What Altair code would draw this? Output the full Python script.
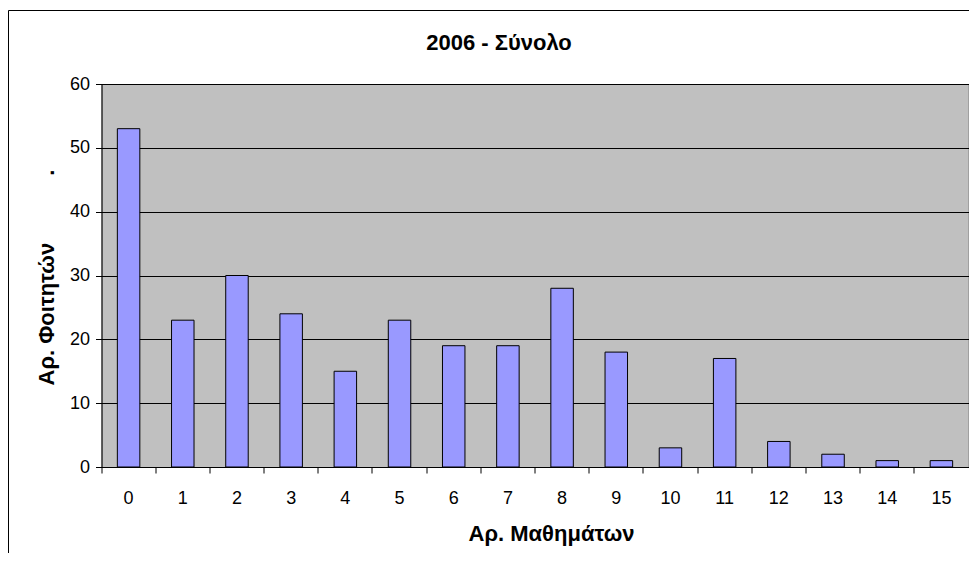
import altair as alt
import pandas as pd

courses = [str(i) for i in range(16)]
students = [53, 23, 30, 24, 15, 23, 19, 19, 28, 18, 3, 17, 4, 2, 1, 1]
y_ticks = [0, 10, 20, 30, 40, 50, 60]
title_text = "2006 - Σύνολο"
x_title = "Αρ. Μαθημάτων"
y_title = "Αρ. Φοιτητών" + "\u00a0" * 11 + "."

df = pd.DataFrame({"courses": courses, "students": students})

W, H = 867, 383
PAD = {"left": 93.5, "top": 76, "right": 0.5, "bottom": 86}
P_IN = 0.585
FONT = "Liberation Sans, Arial, sans-serif"
# tick at the boundary between categories (relative to the bar's bandwidth)
tick_band = -(P_IN / 2) / (1 - P_IN)

bars = alt.Chart(df).mark_bar(color="#9999FF", stroke="black", strokeWidth=1).encode(
    x=alt.X(
        "courses:N",
        sort=courses,
        scale=alt.Scale(paddingInner=P_IN, paddingOuter=P_IN / 2),
        axis=alt.Axis(
            title=x_title,
            labelAngle=0,
            bandPosition=tick_band,
            tickSize=6,
            labelPadding=16,
            domainColor="black",
            tickColor="black",
            titleX=449.5,
            titleY=73,
            titleBaseline="alphabetic",
            titleAlign="center",
        ),
    ),
    y=alt.Y(
        "students:Q",
        scale=alt.Scale(domain=[0, 60], nice=False),
        axis=alt.Axis(
            values=y_ticks,
            title=y_title,
            grid=True,
            gridColor="black",
            gridOpacity=1,
            tickSize=6,
            labelPadding=6,
            domainColor="black",
            tickColor="black",
            titleX=-48.5,
            titleY=193,
            titleAngle=270,
            titleAlign="center",
            titleBaseline="alphabetic",
        ),
    ),
)

one = alt.Data(values=[{"f": 1}])
frame_top = alt.Chart(one).mark_rule(color="black", strokeWidth=1).encode(
    x=alt.value(-93),
    x2=alt.value(W + PAD["right"]),
    y=alt.value(-73.5),
)
frame_left = alt.Chart(one).mark_rule(color="black", strokeWidth=1).encode(
    x=alt.value(-93),
    y=alt.value(-73.5),
    y2=alt.value(H + PAD["bottom"]),
)

chart = (
    alt.layer(bars, frame_top, frame_left)
    .properties(
        width=W,
        height=H,
        padding=PAD,
        autosize=alt.AutoSizeParams(type="none"),
        title=alt.TitleParams(
            title_text,
            font=FONT,
            fontSize=22,
            fontWeight="bold",
            color="black",
            anchor="middle",
            frame="group",
            dx=-36,
            offset=0,
            dy=62,
            baseline="alphabetic",
        ),
    )
    .configure_view(fill="#C0C0C0", stroke="#808080", strokeWidth=1)
    .configure_axis(
        labelFont=FONT,
        labelFontSize=18,
        labelColor="black",
        titleFont=FONT,
        titleFontSize=22,
        titleFontWeight="bold",
        titleColor="black",
    )
)

chart.save("out.html", embed_options={"renderer": "svg", "actions": False})
